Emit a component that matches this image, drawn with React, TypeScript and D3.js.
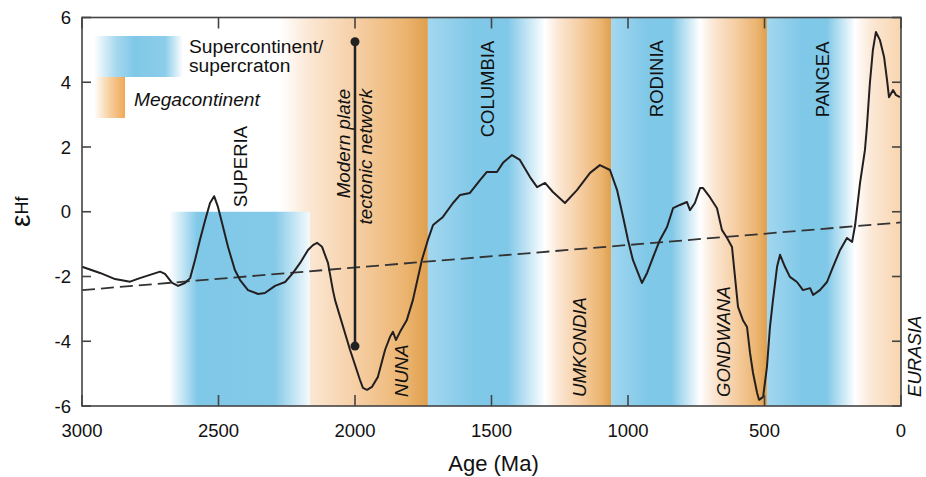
import React, { useEffect, useRef } from 'react';
import * as d3 from 'd3';

// εHf curve (age in Ma, value in epsilon units)
const ages = [
  3000, 2934, 2879, 2824, 2788, 2751, 2714, 2696, 2670, 2648, 2623, 2604, 2586, 2568, 2549, 2531, 2516, 2502,
  2487, 2465, 2440, 2421, 2392, 2355, 2330, 2293, 2256, 2227, 2201, 2172, 2154, 2139, 2121, 2099, 2081, 2073,
  2018, 1982, 1971, 1956, 1938, 1916, 1890, 1872, 1861, 1850, 1835, 1810, 1788, 1755, 1733, 1714, 1678, 1641,
  1615, 1579, 1542, 1517, 1480, 1458, 1425, 1396, 1359, 1333, 1304, 1275, 1231, 1187, 1139, 1103, 1066, 1040,
  1018, 1000, 982, 949, 930, 908, 883, 857, 835, 810, 784, 773, 755, 736, 725, 700, 674, 656, 637, 619, 608,
  597, 579, 564, 553, 542, 527, 520, 505, 491, 480, 469, 454, 443, 425, 407, 381, 359, 333, 322, 297, 271, 249,
  223, 198, 179, 168, 150, 132, 125, 114, 103, 92, 77, 62, 51, 44, 29, 18, 4,
];
const ehf = [
  -1.7, -1.89, -2.08, -2.16, -2.05, -1.95, -1.85, -1.92, -2.2, -2.29, -2.2, -2.05, -1.49, -0.87, -0.26, 0.27, 0.48, 0.15,
  -0.35, -1.09, -1.8, -2.11, -2.42, -2.54, -2.51, -2.29, -2.17, -1.89, -1.58, -1.18, -1.03, -0.96, -1.08, -1.58, -2.42, -2.73,
  -4.27, -5.19, -5.44, -5.5, -5.41, -5.1, -4.27, -3.87, -3.71, -3.96, -3.71, -3.34, -2.73, -1.49, -0.87, -0.41, -0.16, 0.27,
  0.52, 0.58, 0.98, 1.23, 1.23, 1.51, 1.75, 1.6, 1.07, 0.76, 0.89, 0.61, 0.27, 0.67, 1.2, 1.44, 1.29, 0.67,
  -0.16, -0.87, -1.49, -2.2, -1.89, -1.4, -0.87, -0.47, 0.11, 0.21, 0.3, 0.05, 0.27, 0.73, 0.73, 0.45, 0.11, -0.56, -0.81, -1.09, -2.02,
  -2.94, -3.35, -3.56, -4.36, -4.98, -5.6, -5.81, -5.72, -4.79, -3.56, -2.73, -1.7, -1.33, -1.7, -2.01, -2.17, -2.42, -2.36, -2.57, -2.42, -2.17, -1.7,
  -1.18, -0.81, -0.93, -0.41, 0.89, 1.91, 2.61, 3.97, 4.99, 5.55, 5.3, 4.78, 4.06, 3.54, 3.76, 3.6, 3.54,
];

const trendAges = [3000, 0];
const trendValues = [-2.42, -0.33];

const modernAge = 2000;
const modernRange = [5.25, -4.15];

const xTicks = [3000, 2500, 2000, 1500, 1000, 500, 0];
const yTicks = [6, 4, 2, 0, -2, -4, -6];

const bandNames = ['SUPERIA', 'NUNA', 'COLUMBIA', 'UMKONDIA', 'RODINIA', 'GONDWANA', 'PANGEA', 'EURASIA'];
const bandKinds = ['superia', 'mega', 'super', 'mega', 'super', 'mega', 'super', 'eurasia'];
const bandOld = [2680, 2275, 1733, 1304, 1062, 736, 491, 168];
const bandYoung = [2165, 1733, 1304, 1062, 736, 491, 168, 0];
const bandTop = [0, 6, 6, 6, 6, 6, 6, 6];
const labelAge = [2421, 1828, 1513, 1176, 897, 652, 289, -50];
const labelValue = [0.14, -5.72, 2.3, -5.72, 2.92, -5.72, 2.92, -5.72];

const BLUE = '#80c8e8';
const ORANGE = '#df9f4e';

export default function App() {
  const ref = useRef<SVGSVGElement>(null);

  useEffect(() => {
    const svg = d3.select(ref.current);
    svg.selectAll('*').remove();

    const width = 926;
    const height = 477;
    const margin = { top: 17.5, left: 82, bottom: 71, right: 25 };

    const x = d3.scaleLinear().domain([3000, 0]).range([margin.left, width - margin.right]);
    const y = d3.scaleLinear().domain([-6, 6]).range([height - margin.bottom, margin.top]);

    const font = 'Liberation Sans, Arial, sans-serif';
    const defs = svg.append('defs');

    const grad = (id, stops) => {
      const g = defs.append('linearGradient').attr('id', id).attr('x1', 0).attr('x2', 1).attr('y1', 0).attr('y2', 0);
      stops.forEach(([o, c]) => g.append('stop').attr('offset', o).attr('stop-color', c));
    };
    grad('super', [[0, '#a3d7ef'], [0.4, BLUE], [0.68, BLUE], [0.88, '#cfeaf6'], [1, '#ffffff']]);
    grad('superia', [[0, '#ffffff'], [0.08, '#cde9f5'], [0.2, BLUE], [0.75, '#84c9e8'], [0.93, '#d6edf7'], [1, '#f4fafd']]);
    grad('mega', [[0, '#ffffff'], [0.2, '#fbe7d4'], [0.55, '#f5cc9f'], [0.85, '#ebb46f'], [1, ORANGE]]);
    grad('eurasia', [[0, '#ffffff'], [0.35, '#fbe8d6'], [1, '#f8d5ae']]);
    grad('legendBlue', [[0, '#ffffff'], [0.25, '#a6d8ef'], [0.45, BLUE], [0.8, '#8ccdea'], [1, '#ffffff']]);
    grad('legendOrange', [[0, '#ffffff'], [0.5, '#f7cf9f'], [1, '#f0a95a']]);

    // bands
    const order = [1, 0, 2, 3, 4, 5, 6, 7];
    order.forEach((i) => {
      svg.append('rect')
        .attr('x', x(bandOld[i]))
        .attr('y', y(bandTop[i]))
        .attr('width', x(bandYoung[i]) - x(bandOld[i]))
        .attr('height', y(-6) - y(bandTop[i]))
        .attr('fill', `url(#${bandKinds[i]})`);
    });

    // band labels
    bandNames.forEach((name, i) => {
      const italic = bandKinds[i] === 'mega' || bandKinds[i] === 'eurasia';
      svg.append('text')
        .attr('transform', `translate(${x(labelAge[i])},${y(labelValue[i])}) rotate(-90)`)
        .attr('dominant-baseline', 'central')
        .attr('font-family', font)
        .attr('font-size', 18.5)
        .attr('font-style', italic ? 'italic' : 'normal')
        .attr('fill', '#111')
        .text(name);
    });

    // trend line
    const line = d3.line<number>().x((d, i) => x(trendAges[i])).y((d) => y(d));
    svg.append('path')
      .attr('d', line(trendValues))
      .attr('fill', 'none')
      .attr('stroke', '#333')
      .attr('stroke-width', 1.8)
      .attr('stroke-dasharray', '13,6');

    // modern plate tectonic network marker
    svg.append('line')
      .attr('x1', x(modernAge)).attr('x2', x(modernAge))
      .attr('y1', y(modernRange[0])).attr('y2', y(modernRange[1]))
      .attr('stroke', '#222').attr('stroke-width', 2.5);
    modernRange.forEach((v) => {
      svg.append('circle').attr('cx', x(modernAge)).attr('cy', y(v)).attr('r', 4.5).attr('fill', '#222');
    });
    const mt = svg.append('text')
      .attr('transform', `translate(${x(modernAge)},${y(3.8)}) rotate(-90)`)
      .attr('text-anchor', 'end')
      .attr('font-family', font)
      .attr('font-size', 18.8)
      .attr('font-style', 'italic')
      .attr('fill', '#111');
    mt.append('tspan').attr('x', 0).attr('dy', -5).text('Modern plate');
    mt.append('tspan').attr('x', 0).attr('dy', 22).text('tectonic network');

    // εHf curve
    const curve = d3.line<number>().x((d, i) => x(ages[i])).y((d) => y(d));
    svg.append('path')
      .attr('d', curve(ehf))
      .attr('fill', 'none')
      .attr('stroke', '#231f20')
      .attr('stroke-width', 2)
      .attr('stroke-linejoin', 'round');

    // frame
    const x0 = x(3000), x1 = x(0), y0 = y(-6), y1 = y(6);
    svg.append('rect')
      .attr('x', x0).attr('y', y1).attr('width', x1 - x0).attr('height', y0 - y1)
      .attr('fill', 'none').attr('stroke', '#444').attr('stroke-width', 1.6);

    xTicks.forEach((t) => {
      svg.append('line').attr('x1', x(t)).attr('x2', x(t)).attr('y1', y0).attr('y2', y0 - 11)
        .attr('stroke', '#444').attr('stroke-width', 1.6);
      svg.append('line').attr('x1', x(t)).attr('x2', x(t)).attr('y1', y1).attr('y2', y1 + 11)
        .attr('stroke', '#444').attr('stroke-width', 1.6);
      svg.append('text').attr('x', x(t)).attr('y', y0 + 31)
        .attr('text-anchor', 'middle').attr('font-family', font).attr('font-size', 18.5).attr('fill', '#111')
        .text(t);
    });
    yTicks.forEach((t) => {
      svg.append('line').attr('x1', x0).attr('x2', x0 + 9).attr('y1', y(t)).attr('y2', y(t))
        .attr('stroke', '#444').attr('stroke-width', 1.6);
      svg.append('line').attr('x1', x1).attr('x2', x1 - 9).attr('y1', y(t)).attr('y2', y(t))
        .attr('stroke', '#444').attr('stroke-width', 1.6);
      svg.append('text').attr('x', x0 - 11).attr('y', y(t))
        .attr('text-anchor', 'end').attr('dominant-baseline', 'central')
        .attr('font-family', font).attr('font-size', 18.5).attr('fill', '#111')
        .text(t);
    });

    // axis titles
    svg.append('text').attr('x', (x0 + x1) / 2 + 2).attr('y', 471)
      .attr('text-anchor', 'middle').attr('font-family', font).attr('font-size', 22).attr('fill', '#111')
      .text('Age (Ma)');
    const yl = svg.append('text')
      .attr('transform', `translate(28,${y(0)}) rotate(-90)`)
      .attr('text-anchor', 'middle')
      .attr('font-family', font).attr('fill', '#111');
    yl.append('tspan').attr('font-size', 28).attr('dy', 2).text('ε');
    yl.append('tspan').attr('font-size', 18).attr('dy', -2).text('Hf');

    // legend
    svg.append('rect').attr('x', 94).attr('y', 36).attr('width', 89).attr('height', 41).attr('fill', 'url(#legendBlue)');
    svg.append('rect').attr('x', 94).attr('y', 77).attr('width', 31).attr('height', 41).attr('fill', 'url(#legendOrange)');
    svg.append('text').attr('x', 189).attr('y', 53)
      .attr('font-family', font).attr('font-size', 19.2).attr('fill', '#111').text('Supercontinent/');
    svg.append('text').attr('x', 189).attr('y', 72)
      .attr('font-family', font).attr('font-size', 19.2).attr('fill', '#111').text('supercraton');
    svg.append('text').attr('x', 134).attr('y', 106)
      .attr('font-family', font).attr('font-size', 19.2).attr('font-style', 'italic').attr('fill', '#111').text('Megacontinent');
  }, []);

  return (
    <svg ref={ref} width={926} height={477} style={{ position: 'absolute', left: 0, top: 0, background: '#fff' }} />
  );
}
